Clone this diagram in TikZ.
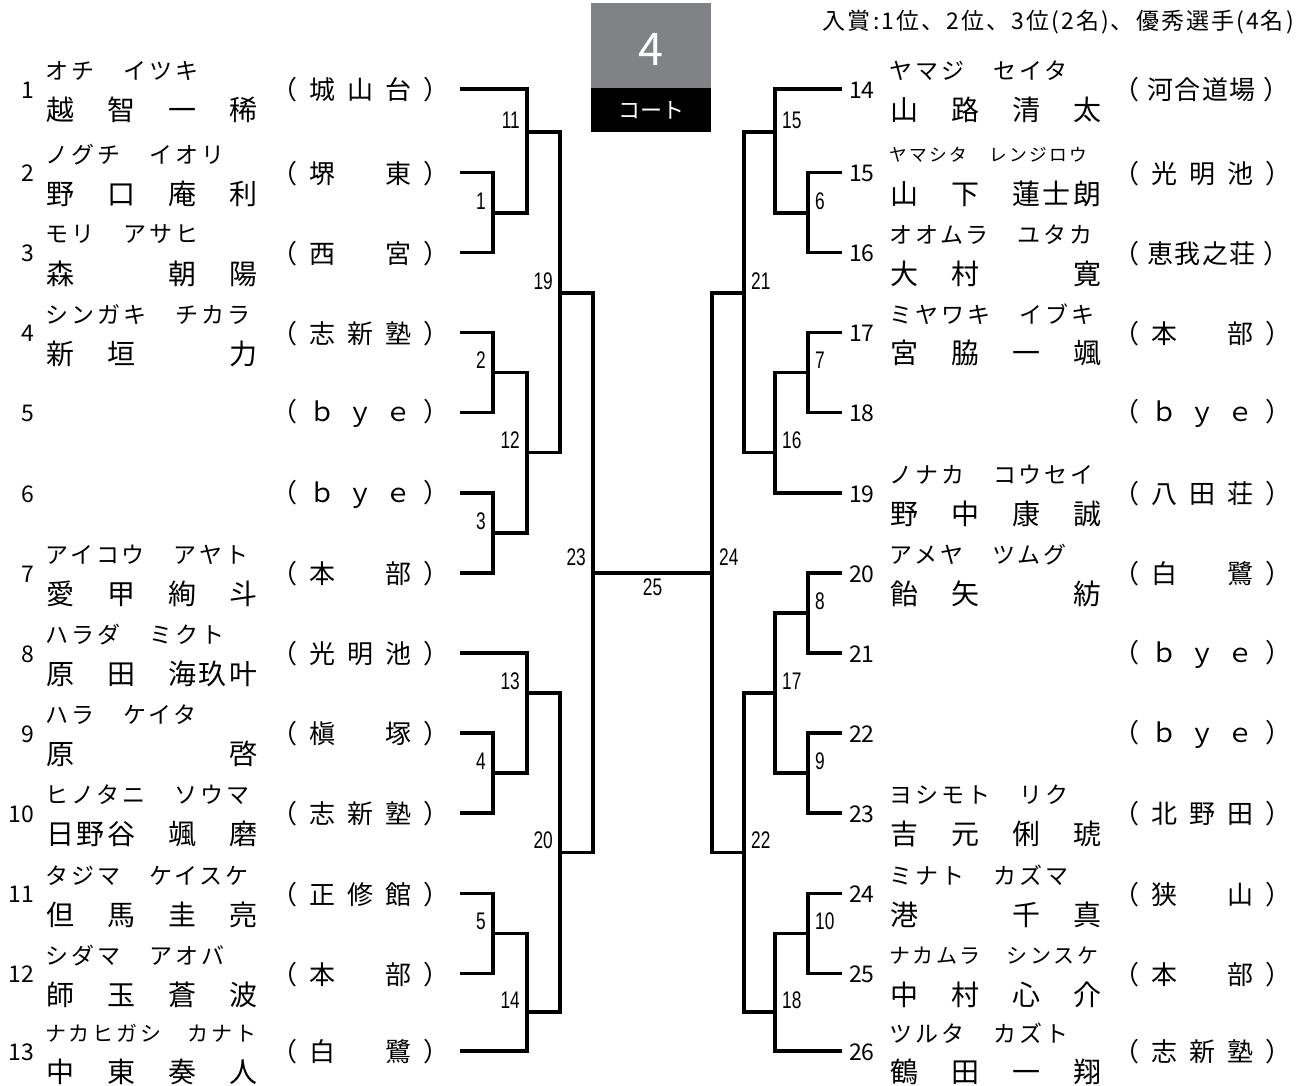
\documentclass[tikz,border=0pt]{standalone}
\usepackage{fontspec}
\setmainfont{Noto Sans CJK JP}
\newfontfamily\jpfont{Noto Sans CJK JP}
\newfontfamily\kanafont[LetterSpace=13]{Noto Sans CJK JP}
\newfontfamily\namefont[LetterSpace=9]{Noto Sans CJK JP}
\newfontfamily\clubfont[LetterSpace=46]{Noto Sans CJK JP}
\newfontfamily\clubfontiv[LetterSpace=6]{Noto Sans CJK JP}
\newfontfamily\numfont[FakeStretch=0.72]{Liberation Sans}
\definecolor{courtgray}{HTML}{808285}

\tikzset{
  bline/.style={line width=3.2pt, line join=miter},
  pnum/.style={inner sep=0pt, font=\jpfont\fontsize{23}{23}\selectfont},
  furi/.style={anchor=west, inner sep=0pt, font=\kanafont\fontsize{23}{23}\selectfont},
  kanji/.style={anchor=west, inner sep=0pt, font=\namefont\fontsize{28}{28}\selectfont},
  club/.style={anchor=west, inner sep=0pt, font=\clubfont\fontsize{26}{26}\selectfont},
  mnum/.style={inner sep=0pt, font=\numfont\fontsize{24}{24}\selectfont},
  lmatch/.style={mnum, anchor=base east, xshift=-7pt, yshift=4pt},
  rmatch/.style={mnum, anchor=base west, xshift=7pt, yshift=4pt}
}

\begin{document}
\begin{tikzpicture}[x=1pt, y=-1pt]
\useasboundingbox (0,0) rectangle (1298,1085);

\node[fill=courtgray, text=white, minimum width=120pt, minimum height=85pt, inner sep=0pt, text height=40pt, font=\jpfont\fontsize{45}{45}\selectfont] (court) at (651,45.5) {4};
\node[fill=black, text=white, minimum width=120pt, minimum height=44pt, inner sep=0pt, font=\jpfont\fontsize{22}{22}\selectfont] (courtlbl) at (651,110) {コート};
\node[anchor=east, inner sep=0pt, font=\namefont\fontsize{23}{23}\selectfont] (prize) at (1294,22) {入賞:1位、2位、3位(2名)、優秀選手(4名)};

% left players
\foreach \n/\y/\k/\m/\c in {
  1/89/オチ　イツキ/越　智　一　稀/（城山台）,
  2/172.5/ノグチ　イオリ/野　口　庵　利/（堺　東）,
  3/252.5/モリ　アサヒ/森　　　朝　陽/（西　宮）,
  4/332.5/シンガキ　チカラ/新　垣　　　力/（志新塾）,
  5/412.5///（ｂｙｅ）,
  6/493///（ｂｙｅ）,
  7/573/アイコウ　アヤト/愛　甲　絢　斗/（本　部）,
  8/653/ハラダ　ミクト/原　田　海玖叶/（光明池）,
  9/733/ハラ　ケイタ/原　　　　　啓/（槇　塚）,
  10/813/ヒノタニ　ソウマ/日野谷　颯　磨/（志新塾）,
  11/893.5/タジマ　ケイスケ/但　馬　圭　亮/（正修館）,
  12/973.5/シダマ　アオバ/師　玉　蒼　波/（本　部）,
  13/1051/{\fontsize{21}{21}\selectfont ナカヒガシ　カナト}/中　東　奏　人/（白　鷺）}{
  \coordinate (p\n) at (460,\y);
  \node[pnum, anchor=east] (num\n) at (34,\y+1) {\n};
  \node[furi] (kana\n) at (45,\y-18) {\k};
  \node[kanji] (name\n) at (46,\y+21) {\m};
  \node[club] (club\n) at (271,\y+1) {\c};
}

% right players
\foreach \n/\y/\k/\m/\c in {
  14/89/ヤマジ　セイタ/山　路　清　太/{\clubfontiv（\kern8pt 河合道場\kern8pt ）},
  15/172.5/{\fontsize{17.7}{17.7}\selectfont ヤマシタ　レンジロウ}/山　下　蓮士朗/（光明池）,
  16/252.5/オオムラ　ユタカ/大　村　　　寛/{\clubfontiv（\kern8pt 恵我之荘\kern8pt ）},
  17/332.5/ミヤワキ　イブキ/宮　脇　一　颯/（本　部）,
  18/412.5///（ｂｙｅ）,
  19/493/ノナカ　コウセイ/野　中　康　誠/（八田荘）,
  20/573/アメヤ　ツムグ/飴　矢　　　紡/（白　鷺）,
  21/653///（ｂｙｅ）,
  22/733///（ｂｙｅ）,
  23/813/ヨシモト　リク/吉　元　俐　琥/（北野田）,
  24/893.5/ミナト　カズマ/港　　　千　真/（狭　山）,
  25/973.5/{\fontsize{21}{21}\selectfont ナカムラ　シンスケ}/中　村　心　介/（本　部）,
  26/1051/ツルタ　カズト/鶴　田　一　翔/（志新塾）}{
  \coordinate (p\n) at (842,\y);
  \node[pnum, anchor=west] (num\n) at (849,\y+1) {\n};
  \node[furi] (kana\n) at (889,\y-18) {\k};
  \node[kanji] (name\n) at (890,\y+21) {\m};
  \node[club] (club\n) at (1113,\y+1) {\c};
}

\coordinate (m1) at (493,213);
\coordinate (m2) at (493,372.5);
\coordinate (m3) at (493,533);
\coordinate (m4) at (493,773);
\coordinate (m5) at (493,933.5);
\coordinate (m11) at (527,132);
\coordinate (m12) at (527,452.5);
\coordinate (m13) at (527,693);
\coordinate (m14) at (527,1012);
\coordinate (m19) at (560,293);
\coordinate (m20) at (560,852.5);
\coordinate (m23) at (593,573);

\coordinate (m6) at (808,213);
\coordinate (m7) at (808,372.5);
\coordinate (m8) at (808,613);
\coordinate (m9) at (808,773);
\coordinate (m10) at (808,933.5);
\coordinate (m15) at (775,132);
\coordinate (m16) at (775,452.5);
\coordinate (m17) at (775,693);
\coordinate (m18) at (775,1012);
\coordinate (m21) at (744,293);
\coordinate (m22) at (744,852.5);
\coordinate (m24) at (712,573);

\draw[bline] (p2) -| (m1) |- (p3);
\draw[bline] (p4) -| (m2) |- (p5);
\draw[bline] (p6) -| (m3) |- (p7);
\draw[bline] (p9) -| (m4) |- (p10);
\draw[bline] (p11) -| (m5) |- (p12);
\draw[bline] (p1) -| (m11) |- (m1);
\draw[bline] (m2) -| (m12) |- (m3);
\draw[bline] (p8) -| (m13) |- (m4);
\draw[bline] (m5) -| (m14) |- (p13);
\draw[bline] (m11) -| (m19) |- (m12);
\draw[bline] (m13) -| (m20) |- (m14);
\draw[bline] (m19) -| (m23) |- (m20);

\draw[bline] (p15) -| (m6) |- (p16);
\draw[bline] (p17) -| (m7) |- (p18);
\draw[bline] (p20) -| (m8) |- (p21);
\draw[bline] (p22) -| (m9) |- (p23);
\draw[bline] (p24) -| (m10) |- (p25);
\draw[bline] (p14) -| (m15) |- (m6);
\draw[bline] (m7) -| (m16) |- (p19);
\draw[bline] (m8) -| (m17) |- (m9);
\draw[bline] (m10) -| (m18) |- (p26);
\draw[bline] (m15) -| (m21) |- (m16);
\draw[bline] (m17) -| (m22) |- (m18);
\draw[bline] (m21) -| (m24) |- (m22);

\draw[bline] (m23) -- (m24);

\foreach \i in {1,...,5,11,12,13,14,19,20}
  \node[lmatch] (lab\i) at (m\i) {\i};
\foreach \i in {6,...,10,15,16,17,18,21,22}
  \node[rmatch] (lab\i) at (m\i) {\i};
\node[lmatch, yshift=4pt] (lab23) at (m23) {23};
\node[rmatch, yshift=4pt] (lab24) at (m24) {24};
\node[mnum, anchor=north] (lab25) at (652.5,579) {25};

\end{tikzpicture}
\end{document}
